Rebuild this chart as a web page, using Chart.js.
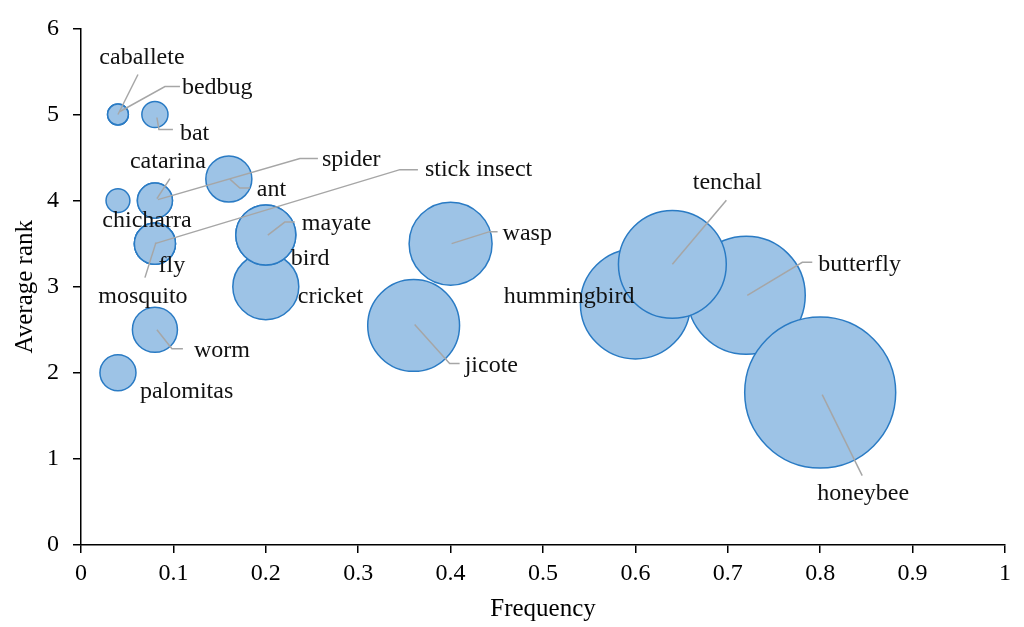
<!DOCTYPE html>
<html>
<head>
<meta charset="utf-8">
<script src="https://cdn.jsdelivr.net/npm/chart.js@4"></script>
<style>
  body { margin: 0; background: #fff; }
  canvas { display: block; }
</style>
</head>
<body>
<canvas id="bubbleChart" width="1024" height="627"></canvas>
<script>
// data (drawing order: small first, overlapping ones later)
const species = ['palomitas', 'worm', 'chicharra', 'catarina', 'spider', 'caballete', 'bedbug', 'bat',
    'fly', 'stick insect', 'mosquito', 'ant', 'cricket', 'mayate', 'bird', 'wasp', 'jicote',
    'hummingbird', 'butterfly', 'tenchal', 'honeybee'];
const frequency = [0.04, 0.08, 0.04, 0.08, 0.08, 0.04, 0.04, 0.08,
    0.08, 0.08, 0.08, 0.16, 0.2, 0.2, 0.2, 0.4, 0.36,
    0.6, 0.72, 0.64, 0.8];
const averageRank = [2, 2.5, 4, 4, 4, 5, 5, 5,
    3.5, 3.5, 3.5, 4.25, 3, 3.6, 3.6, 3.5, 2.55,
    2.8, 2.9, 3.26, 1.77];
// relative bubble size (area), honeybee = 100
const bubbleSize = [5.7, 8.9, 2.5, 5.4, 5.4, 1.9, 1.9, 3.0,
    7.4, 7.4, 7.4, 9.3, 19.1, 15.8, 15.8, 30.2, 37,
    53, 61, 51, 100];
const xTickLabels = ['0', '0.1', '0.2', '0.3', '0.4', '0.5', '0.6', '0.7', '0.8', '0.9', '1'];
const yTickLabels = ['0', '1', '2', '3', '4', '5', '6'];

// label placement relative to bubble centre (px) and leader lines
const labelLayout = {
    'caballete':    { dx: 24,  dy: -57, align: 'center', leader: [[0, 0], [20, -40]] },
    'bedbug':       { dx: 64,  dy: -27, align: 'left',   leader: [[2, -3], [47, -28], [62, -28]] },
    'bat':          { dx: 25,  dy: 19,  align: 'left',   leader: [[2, 3], [4, 15], [18, 15]] },
    'catarina':     { dx: 13,  dy: -39, align: 'center', leader: [[2, -2], [15, -22]] },
    'spider':       { dx: 167, dy: -41, align: 'left',   leader: [[3, -1], [145, -42], [163, -42]] },
    'chicharra':    { dx: 29,  dy: 20,  align: 'center' },
    'fly':          { dx: 17,  dy: 22,  align: 'center' },
    'stick insect': { dx: 270, dy: -74, align: 'left',   leader: [[0, 0], [245, -74], [263, -74]] },
    'mosquito':     { dx: -12, dy: 53,  align: 'center', leader: [[1, -1], [-10, 34]] },
    'ant':          { dx: 28,  dy: 11,  align: 'left',   leader: [[1, 0], [11, 9], [21, 9]] },
    'mayate':       { dx: 36,  dy: -11, align: 'left',   leader: [[2, 0], [19, -13], [29, -13]] },
    'bird':         { dx: 25,  dy: 24,  align: 'left' },
    'cricket':      { dx: 32,  dy: 10,  align: 'left' },
    'worm':         { dx: 39,  dy: 21,  align: 'left',   leader: [[2, 0], [17, 19], [28, 19]] },
    'palomitas':    { dx: 22,  dy: 19,  align: 'left' },
    'wasp':         { dx: 52,  dy: -10, align: 'left',   leader: [[1, 0], [39, -12], [47, -12]] },
    'jicote':       { dx: 51,  dy: 40,  align: 'left',   leader: [[1, -1], [36, 38], [46, 38]] },
    'hummingbird':  { dx: -1,  dy: -7,  align: 'right' },
    'tenchal':      { dx: 55,  dy: -82, align: 'center', leader: [[0, 0], [54, -64]] },
    'butterfly':    { dx: 72,  dy: -31, align: 'left',   leader: [[1, 0], [56, -33], [66, -33]] },
    'honeybee':     { dx: 43,  dy: 101, align: 'center', leader: [[2, 2], [42, 83]] }
};

const serif = "'Liberation Serif', 'Times New Roman', serif";

const points = species.map((s, i) => ({ x: frequency[i], y: averageRank[i] }));

const bubbleLabels = {
    id: 'bubbleLabels',
    afterDatasetsDraw(chart) {
        const ctx = chart.ctx;
        const meta = chart.getDatasetMeta(0);
        ctx.save();
        // leader lines first
        ctx.strokeStyle = '#a6a6a6';
        ctx.lineWidth = 1.5;
        meta.data.forEach((el, i) => {
            const lay = labelLayout[species[i]];
            if (!lay || !lay.leader) return;
            ctx.beginPath();
            lay.leader.forEach((p, k) => {
                if (k === 0) ctx.moveTo(el.x + p[0], el.y + p[1]);
                else ctx.lineTo(el.x + p[0], el.y + p[1]);
            });
            ctx.stroke();
        });
        ctx.fillStyle = '#111';
        ctx.font = '24px ' + serif;
        ctx.textBaseline = 'middle';
        meta.data.forEach((el, i) => {
            const lay = labelLayout[species[i]];
            if (!lay) return;
            ctx.textAlign = lay.align;
            ctx.fillText(species[i], el.x + lay.dx, el.y + lay.dy);
        });
        ctx.restore();
    }
};

const ctx = document.getElementById('bubbleChart');

new Chart(ctx, {
    type: 'bubble',
    data: {
        datasets: [{
            data: points,
            backgroundColor: '#9dc3e6',
            borderColor: '#2a7bc4',
            borderWidth: 1.5,
            radius: function(c) {
                const area = c.chart.chartArea;
                const h = area ? area.bottom - area.top : 525;
                return h * 0.1438 * Math.sqrt(bubbleSize[c.dataIndex] / 100);
            }
        }]
    },
    options: {
        responsive: false,
        animation: false,
        layout: { autoPadding: false, padding: { top: 20, right: 19, left: 0, bottom: 0 } },
        plugins: {
            legend: { display: false },
            tooltip: { enabled: false }
        },
        scales: {
            x: {
                type: 'linear',
                min: 0,
                max: 1,
                afterFit: scale => { scale.height = 82; },
                ticks: {
                    stepSize: 0.1,
                    color: '#000',
                    padding: 6,
                    font: { family: serif, size: 24 },
                    callback: (v, i) => xTickLabels[i]
                },
                grid: { drawOnChartArea: false, tickLength: 8, color: '#000', lineWidth: 1.5 },
                border: { color: '#000', width: 1.5 },
                title: {
                    display: true,
                    text: 'Frequency',
                    color: '#000',
                    font: { family: serif, size: 25 },
                    padding: { top: 0, bottom: 3 }
                }
            },
            y: {
                min: 0,
                max: 6,
                afterFit: scale => { scale.width = 81; },
                ticks: {
                    stepSize: 1,
                    color: '#000',
                    padding: 14,
                    font: { family: serif, size: 24 },
                    callback: (v, i) => yTickLabels[i]
                },
                grid: { drawOnChartArea: false, tickLength: 8, color: '#000', lineWidth: 1.5 },
                border: { color: '#000', width: 1.5 },
                title: {
                    display: true,
                    text: 'Average rank',
                    color: '#000',
                    font: { family: serif, size: 25 },
                    padding: { top: 10, bottom: 0 }
                }
            }
        }
    },
    plugins: [bubbleLabels]
});
</script>
</body>
</html>
